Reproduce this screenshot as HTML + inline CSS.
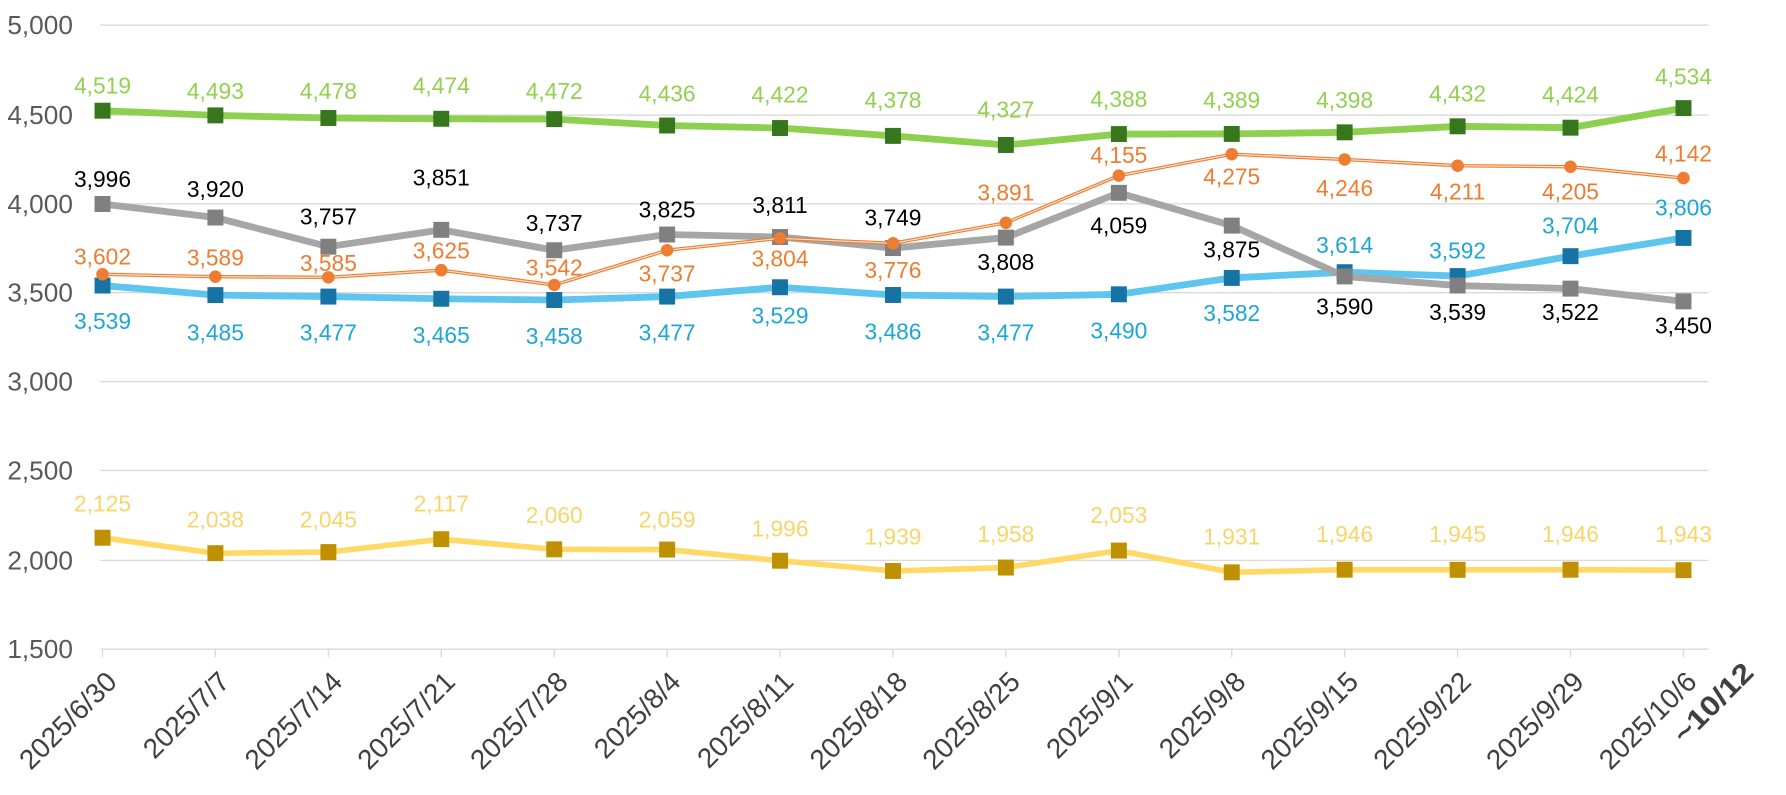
<!DOCTYPE html>
<html><head><meta charset="utf-8"><style>
html,body{margin:0;padding:0;background:#fff;}
svg{display:block;}
text{font-family:"Liberation Sans",sans-serif;}
.yl{font-size:23px;fill:#595959;text-anchor:end;dominant-baseline:central;}
.xl{font-size:24.5px;fill:#404040;text-anchor:end;}
.lb{font-size:20px;text-anchor:middle;dominant-baseline:central;}
.g{fill:#92d050}.k{fill:#000}.o{fill:#ed7d31}.b{fill:#1ea6d6}.y{fill:#f7d56a}
</style></head><body>
<svg width="1786" height="795" viewBox="0 0 1568 698" preserveAspectRatio="none">
<rect width="1568" height="698" fill="#fff"/>
<g stroke="#d9d9d9" stroke-width="1.2">
<line x1="88" x2="1500" y1="22" y2="22"/><line x1="88" x2="1500" y1="101" y2="101"/>
<line x1="88" x2="1500" y1="179" y2="179"/><line x1="88" x2="1500" y1="257" y2="257"/>
<line x1="88" x2="1500" y1="335" y2="335"/><line x1="88" x2="1500" y1="413" y2="413"/>
<line x1="88" x2="1500" y1="492" y2="492"/><line x1="88" x2="1500" y1="570" y2="570"/>
<path d="M90 570v7M189.1 570v7M288.3 570v7M387.4 570v7M486.6 570v7M585.7 570v7M684.8 570v7M784 570v7M883.1 570v7M982.3 570v7M1081.4 570v7M1180.5 570v7M1279.7 570v7M1378.8 570v7M1478 570v7"/>
</g>
<text class="yl" x="64" y="22">5,000</text><text class="yl" x="64" y="101">4,500</text>
<text class="yl" x="64" y="179">4,000</text><text class="yl" x="64" y="257">3,500</text>
<text class="yl" x="64" y="335">3,000</text><text class="yl" x="64" y="413">2,500</text>
<text class="yl" x="64" y="492">2,000</text><text class="yl" x="64" y="570">1,500</text>

<!-- yellow -->
<polyline fill="none" stroke="#ffd966" stroke-width="5" points="90,472.1 189.1,485.7 288.3,484.7 387.4,473.4 486.6,482.3 585.7,482.5 684.8,492.3 784,501.3 883.1,498.3 982.3,483.4 1081.4,502.5 1180.5,500.2 1279.7,500.3 1378.8,500.2 1478,500.6"/>
<g fill="#bf9000"><rect x="83" y="465.1" width="14" height="14"/><rect x="182.1" y="478.7" width="14" height="14"/><rect x="281.3" y="477.7" width="14" height="14"/><rect x="380.4" y="466.4" width="14" height="14"/><rect x="479.6" y="475.3" width="14" height="14"/><rect x="578.7" y="475.5" width="14" height="14"/><rect x="677.8" y="485.3" width="14" height="14"/><rect x="777" y="494.3" width="14" height="14"/><rect x="876.1" y="491.3" width="14" height="14"/><rect x="975.3" y="476.4" width="14" height="14"/><rect x="1074.4" y="495.5" width="14" height="14"/><rect x="1173.5" y="493.2" width="14" height="14"/><rect x="1272.7" y="493.3" width="14" height="14"/><rect x="1371.8" y="493.2" width="14" height="14"/><rect x="1471" y="493.6" width="14" height="14"/></g>

<!-- blue -->
<polyline fill="none" stroke="#5ec5ef" stroke-width="6" points="90,250.7 189.1,259.1 288.3,260.4 387.4,262.3 486.6,263.4 585.7,260.4 684.8,252.2 784,259 883.1,260.4 982.3,258.4 1081.4,244 1180.5,239 1279.7,242.4 1378.8,224.9 1478,208.9"/>
<g fill="#1673a3"><rect x="83" y="243.7" width="14" height="14"/><rect x="182.1" y="252.1" width="14" height="14"/><rect x="281.3" y="253.4" width="14" height="14"/><rect x="380.4" y="255.3" width="14" height="14"/><rect x="479.6" y="256.4" width="14" height="14"/><rect x="578.7" y="253.4" width="14" height="14"/><rect x="677.8" y="245.2" width="14" height="14"/><rect x="777" y="252" width="14" height="14"/><rect x="876.1" y="253.4" width="14" height="14"/><rect x="975.3" y="251.4" width="14" height="14"/><rect x="1074.4" y="237" width="14" height="14"/><rect x="1173.5" y="232" width="14" height="14"/><rect x="1272.7" y="235.4" width="14" height="14"/><rect x="1371.8" y="217.9" width="14" height="14"/><rect x="1471" y="201.9" width="14" height="14"/></g>

<!-- gray -->
<polyline fill="none" stroke="#a6a6a6" stroke-width="6" points="90,179.1 189.1,191 288.3,216.6 387.4,201.8 486.6,219.7 585.7,205.9 684.8,208.1 784,217.8 883.1,208.6 982.3,169.3 1081.4,198.1 1180.5,242.7 1279.7,250.7 1378.8,253.4 1478,264.6"/>
<g fill="#808080"><rect x="83" y="172.1" width="14" height="14"/><rect x="182.1" y="184" width="14" height="14"/><rect x="281.3" y="209.6" width="14" height="14"/><rect x="380.4" y="194.8" width="14" height="14"/><rect x="479.6" y="212.7" width="14" height="14"/><rect x="578.7" y="198.9" width="14" height="14"/><rect x="677.8" y="201.1" width="14" height="14"/><rect x="777" y="210.8" width="14" height="14"/><rect x="876.1" y="201.6" width="14" height="14"/><rect x="975.3" y="162.3" width="14" height="14"/><rect x="1074.4" y="191.1" width="14" height="14"/><rect x="1173.5" y="235.7" width="14" height="14"/><rect x="1272.7" y="243.7" width="14" height="14"/><rect x="1371.8" y="246.4" width="14" height="14"/><rect x="1471" y="257.6" width="14" height="14"/></g>

<!-- orange -->
<polyline fill="none" stroke="#ed7d31" stroke-width="3" points="90,240.8 189.1,242.9 288.3,243.5 387.4,237.2 486.6,250.2 585.7,219.7 684.8,209.2 784,213.6 883.1,195.6 982.3,154.2 1081.4,135.4 1180.5,140 1279.7,145.5 1378.8,146.4 1478,156.3"/>
<polyline fill="none" stroke="#fbe3d4" stroke-width="1" points="90,240.8 189.1,242.9 288.3,243.5 387.4,237.2 486.6,250.2 585.7,219.7 684.8,209.2 784,213.6 883.1,195.6 982.3,154.2 1081.4,135.4 1180.5,140 1279.7,145.5 1378.8,146.4 1478,156.3"/>
<g fill="#ed7d31"><circle cx="90" cy="240.8" r="5.5"/><circle cx="189.1" cy="242.9" r="5.5"/><circle cx="288.3" cy="243.5" r="5.5"/><circle cx="387.4" cy="237.2" r="5.5"/><circle cx="486.6" cy="250.2" r="5.5"/><circle cx="585.7" cy="219.7" r="5.5"/><circle cx="684.8" cy="209.2" r="5.5"/><circle cx="784" cy="213.6" r="5.5"/><circle cx="883.1" cy="195.6" r="5.5"/><circle cx="982.3" cy="154.2" r="5.5"/><circle cx="1081.4" cy="135.4" r="5.5"/><circle cx="1180.5" cy="140" r="5.5"/><circle cx="1279.7" cy="145.5" r="5.5"/><circle cx="1378.8" cy="146.4" r="5.5"/><circle cx="1478" cy="156.3" r="5.5"/></g>

<!-- green -->
<polyline fill="none" stroke="#8dcf4f" stroke-width="6" points="90,97.2 189.1,101.3 288.3,103.6 387.4,104.3 486.6,104.6 585.7,110.2 684.8,112.4 784,119.3 883.1,127.3 982.3,117.7 1081.4,117.6 1180.5,116.2 1279.7,110.9 1378.8,112.1 1478,94.9"/>
<g fill="#38761d"><rect x="83" y="90.2" width="14" height="14"/><rect x="182.1" y="94.3" width="14" height="14"/><rect x="281.3" y="96.6" width="14" height="14"/><rect x="380.4" y="97.3" width="14" height="14"/><rect x="479.6" y="97.6" width="14" height="14"/><rect x="578.7" y="103.2" width="14" height="14"/><rect x="677.8" y="105.4" width="14" height="14"/><rect x="777" y="112.3" width="14" height="14"/><rect x="876.1" y="120.3" width="14" height="14"/><rect x="975.3" y="110.7" width="14" height="14"/><rect x="1074.4" y="110.6" width="14" height="14"/><rect x="1173.5" y="109.2" width="14" height="14"/><rect x="1272.7" y="103.9" width="14" height="14"/><rect x="1371.8" y="105.1" width="14" height="14"/><rect x="1471" y="87.9" width="14" height="14"/></g>

<!-- labels -->
<g class="lb g"><text x="90" y="75">4,519</text><text x="189.1" y="80">4,493</text><text x="288.3" y="80">4,478</text><text x="387.4" y="75">4,474</text><text x="486.6" y="80">4,472</text><text x="585.7" y="82">4,436</text><text x="684.8" y="83">4,422</text><text x="784" y="88">4,378</text><text x="883.1" y="96">4,327</text><text x="982.3" y="87">4,388</text><text x="1081.4" y="88">4,389</text><text x="1180.5" y="88">4,398</text><text x="1279.7" y="82">4,432</text><text x="1378.8" y="83">4,424</text><text x="1478" y="67">4,534</text></g>
<g class="lb k"><text x="90" y="157">3,996</text><text x="189.1" y="166">3,920</text><text x="288.3" y="190">3,757</text><text x="387.4" y="156">3,851</text><text x="486.6" y="196">3,737</text><text x="585.7" y="184">3,825</text><text x="684.8" y="180">3,811</text><text x="784" y="191">3,749</text><text x="883.1" y="230">3,808</text><text x="982.3" y="198">4,059</text><text x="1081.4" y="219">3,875</text><text x="1180.5" y="269">3,590</text><text x="1279.7" y="274">3,539</text><text x="1378.8" y="274">3,522</text><text x="1478" y="286">3,450</text></g>
<g class="lb o"><text x="90" y="225">3,602</text><text x="189.1" y="226">3,589</text><text x="288.3" y="231">3,585</text><text x="387.4" y="220">3,625</text><text x="486.6" y="235">3,542</text><text x="585.7" y="240">3,737</text><text x="684.8" y="227">3,804</text><text x="784" y="237">3,776</text><text x="883.1" y="169">3,891</text><text x="982.3" y="136">4,155</text><text x="1081.4" y="155">4,275</text><text x="1180.5" y="165">4,246</text><text x="1279.7" y="168">4,211</text><text x="1378.8" y="168">4,205</text><text x="1478" y="135">4,142</text></g>
<g class="lb b"><text x="90" y="282">3,539</text><text x="189.1" y="292">3,485</text><text x="288.3" y="292">3,477</text><text x="387.4" y="294">3,465</text><text x="486.6" y="295">3,458</text><text x="585.7" y="292">3,477</text><text x="684.8" y="277">3,529</text><text x="784" y="291">3,486</text><text x="883.1" y="292">3,477</text><text x="982.3" y="290">3,490</text><text x="1081.4" y="275">3,582</text><text x="1180.5" y="215">3,614</text><text x="1279.7" y="220">3,592</text><text x="1378.8" y="198">3,704</text><text x="1478" y="182">3,806</text></g>
<g class="lb y"><text x="90" y="442">2,125</text><text x="189.1" y="456">2,038</text><text x="288.3" y="456">2,045</text><text x="387.4" y="442">2,117</text><text x="486.6" y="452">2,060</text><text x="585.7" y="456">2,059</text><text x="684.8" y="464">1,996</text><text x="784" y="471">1,939</text><text x="883.1" y="469">1,958</text><text x="982.3" y="452">2,053</text><text x="1081.4" y="471">1,931</text><text x="1180.5" y="469">1,946</text><text x="1279.7" y="469">1,945</text><text x="1378.8" y="469">1,946</text><text x="1478" y="469">1,943</text></g>

<!-- x labels -->
<g class="xl">
<text transform="translate(104,600) rotate(-45)">2025/6/30</text>
<text transform="translate(203,600) rotate(-45)">2025/7/7</text>
<text transform="translate(302,600) rotate(-45)">2025/7/14</text>
<text transform="translate(401,600) rotate(-45)">2025/7/21</text>
<text transform="translate(500,600) rotate(-45)">2025/7/28</text>
<text transform="translate(599,600) rotate(-45)">2025/8/4</text>
<text transform="translate(698,600) rotate(-45)">2025/8/11</text>
<text transform="translate(798,600) rotate(-45)">2025/8/18</text>
<text transform="translate(897,600) rotate(-45)">2025/8/25</text>
<text transform="translate(996,600) rotate(-45)">2025/9/1</text>
<text transform="translate(1095,600) rotate(-45)">2025/9/8</text>
<text transform="translate(1194,600) rotate(-45)">2025/9/15</text>
<text transform="translate(1293,600) rotate(-45)">2025/9/22</text>
<text transform="translate(1392,600) rotate(-45)">2025/9/29</text>
<text transform="translate(1491,600) rotate(-45)">2025/10/6</text>
<text transform="translate(1541,592) rotate(-45)" style="font-weight:bold;fill:#404040" textLength="88" lengthAdjust="spacingAndGlyphs">~10/12</text>
</g>
</svg>
</body></html>
